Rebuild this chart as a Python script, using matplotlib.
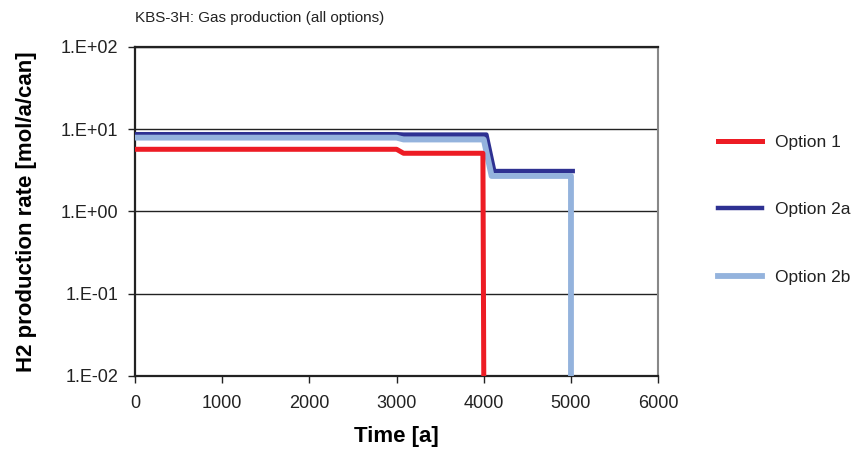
import math
import matplotlib.pyplot as plt
from matplotlib.ticker import FixedLocator, FuncFormatter, NullLocator

plt.rcParams['font.family'] = ['Liberation Sans', 'DejaVu Sans']

# time [a] and rate [mol/a/can]
t_opt1 = [0, 3000, 3080, 3990, 4000]
y_opt1 = [5.7, 5.7, 5.1, 5.1, 0.01]

t_opt2a = [0, 3000, 3080, 4030, 4120, 5020]
y_opt2a = [8.7, 8.7, 8.6, 8.6, 3.1, 3.1]

t_opt2b = [0, 3000, 3080, 4000, 4090, 5000, 5000]
y_opt2b = [7.9, 7.9, 7.5, 7.5, 2.7, 2.7, 0.01]

y_ticks = [1e-2, 1e-1, 1e0, 1e1, 1e2]
x_ticks = [0, 1000, 2000, 3000, 4000, 5000, 6000]

fig = plt.figure(figsize=(8.57, 4.54), dpi=100)
ax = fig.add_axes([0.1575, 0.172, 0.6105, 0.7245])

ax.plot(t_opt2a, y_opt2a, color='#2e3192', lw=3.2, label='Option 2a', zorder=3)
ax.plot(t_opt2b, y_opt2b, color='#94b3dd', lw=4.2, label='Option 2b', zorder=4)
ax.plot(t_opt1, y_opt1, color='#ed1c24', lw=3.6, label='Option 1', zorder=5)

ax.set_yscale('log')
ax.set_ylim(1e-2, 1e2)
ax.set_xlim(0, 6000)
ax.yaxis.set_major_locator(FixedLocator(y_ticks))
ax.yaxis.set_minor_locator(NullLocator())
ax.yaxis.set_major_formatter(FuncFormatter(lambda v, p: '1.E%+03d' % round(math.log10(v))))
ax.set_xticks(x_ticks)

for v in y_ticks[1:]:
    ax.axhline(v, color='#222222', lw=1.0, zorder=1)

ax.tick_params(direction='out', length=5, width=1, colors='#222222', labelsize=13)
ax.tick_params(axis='x', pad=9)
ax.tick_params(axis='y', pad=7)
for s in ['left', 'bottom', 'top']:
    ax.spines[s].set_color('#222222')
    ax.spines[s].set_linewidth(1.6)
ax.spines['right'].set_color('#888888')
ax.spines['right'].set_linewidth(1.5)

ax.set_xlabel('Time [a]', fontsize=16, fontweight='bold', labelpad=10)
ax.set_ylabel('H2 production rate [mol/a/can]', fontsize=16, fontweight='bold', labelpad=17)
fig.text(0.1575, 0.96, 'KBS-3H: Gas production (all options)', fontsize=11, color='#222222', va='center')

handles, labels = ax.get_legend_handles_labels()
order = [2, 0, 1]
leg = ax.legend([handles[i] for i in order], [labels[i] for i in order],
                loc='upper left', bbox_to_anchor=(1.085, 0.78), frameon=False,
                fontsize=12.5, handlelength=2.5, handletextpad=0.75, labelspacing=3.0)
for txt in leg.get_texts():
    txt.set_color('#222222')

fig.savefig('out.png', dpi=100)
